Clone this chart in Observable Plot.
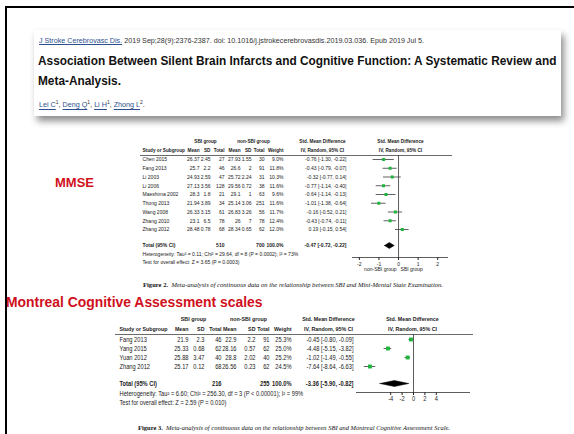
<!DOCTYPE html>
<html><head><meta charset="utf-8">
<script src="https://cdn.jsdelivr.net/npm/d3@7"></script>
<script src="https://cdn.jsdelivr.net/npm/@observablehq/plot@0.6"></script>
<style>
html,body{margin:0;padding:0;background:#fff}
#page{position:relative;width:574px;height:434px;overflow:hidden;background:#fff}
.abs{position:absolute;white-space:nowrap}
.u{text-decoration:underline}
</style></head>
<body><div id="page"></div>
<script>
// ---------- text content ----------
const citeJournal = "J Stroke Cerebrovasc Dis.";
const citeRest = " 2019 Sep;28(9):2376-2387. doi: 10.1016/j.jstrokecerebrovasdis.2019.03.036. Epub 2019 Jul 5.";
const titleLines = ["Association Between Silent Brain Infarcts and Cognitive Function: A Systematic Review and", "Meta-Analysis."];
const authorNames = ["Lei C", "Deng Q", "Li H", "Zhong L"];
const authorAffil = ["1", "1", "1", "2"];
const sectionLabels = ["MMSE", "Montreal Cognitive Assessment scales"];
const groupHeaders = ["SBI group", "non-SBI group", "Std. Mean Difference", "Std. Mean Difference"];
const subHeaders = ["Study or Subgroup", "Mean", "SD", "Total", "Mean", "SD", "Total", "Weight", "IV, Random, 95% CI", "IV, Random, 95% CI"];
const totalLabel = "Total (95% CI)";

// ---------- Figure 2: MMSE ----------
const mmseStudies = ["Chen 2015", "Fang 2013", "Li 2003", "Li 2006", "Maeshima 2002", "Thong 2013", "Wang 2008", "Zhang 2010", "Zhang 2012"];
const mmseSbiMean = [26.37, 25.7, 24.93, 27.13, 28.3, 21.94, 26.33, 23.1, 28.48];
const mmseSbiSD = [2.45, 2.2, 2.59, 3.56, 1.8, 3.89, 3.15, 6.5, 0.78];
const mmseSbiN = [27, 46, 47, 128, 21, 34, 61, 78, 68];
const mmseNonMean = [27.93, 26.6, 25.72, 29.56, 29.1, 25.14, 26.83, 26, 28.34];
const mmseNonSD = [1.55, 2, 2.24, 0.72, 1, 3.06, 3.26, 7, 0.65];
const mmseNonN = [30, 91, 31, 38, 63, 251, 56, 78, 62];
const mmseWeight = [9.0, 11.8, 10.3, 11.6, 9.6, 11.6, 11.7, 12.4, 12.0];
const mmseSMD = [-0.76, -0.43, -0.32, -0.77, -0.64, -1.01, -0.16, -0.43, 0.19];
const mmseLo = [-1.30, -0.79, -0.77, -1.14, -1.14, -1.38, -0.52, -0.74, -0.15];
const mmseHi = [-0.22, -0.07, 0.14, -0.40, -0.13, -0.64, 0.21, -0.11, 0.54];
const mmseTotalN = [510, 700];
const mmseTotalWeight = 100.0;
const mmseTotalCI = [-0.47, -0.72, -0.22];
const mmseHeterogeneity = "Heterogeneity: Tau² = 0.11; Chi² = 29.64, df = 8 (P = 0.0002); I² = 73%";
const mmseOverall = "Test for overall effect: Z = 3.65 (P = 0.0003)";
const mmseTicks = [-2, -1, 0, 1, 2];
const mmseFavours = ["non-SBI group", "SBI group"];
const mmseCaption = ["Figure 2.", "Meta-analysis of continuous data on the relationship between SBI and Mini-Mental State Examination."];

// ---------- Figure 3: MoCA ----------
const mocaStudies = ["Fang 2013", "Yang 2015", "Yuan 2012", "Zhang 2012"];
const mocaSbiMean = [21.9, 25.33, 25.88, 25.17];
const mocaSbiSD = [2.3, 0.68, 3.47, 0.12];
const mocaSbiN = [46, 62, 40, 68];
const mocaNonMean = [22.9, 28.16, 28.8, 26.56];
const mocaNonSD = [2.2, 0.57, 2.02, 0.23];
const mocaNonN = [91, 62, 40, 62];
const mocaWeight = [25.3, 25.0, 25.2, 24.5];
const mocaSMD = [-0.45, -4.48, -1.02, -7.64];
const mocaLo = [-0.80, -5.15, -1.49, -8.64];
const mocaHi = [-0.09, -3.82, -0.55, -6.63];
const mocaTotalN = [216, 255];
const mocaTotalWeight = 100.0;
const mocaTotalCI = [-3.36, -5.90, -0.82];
const mocaHeterogeneity = "Heterogeneity: Tau² = 6.60; Chi² = 256.30, df = 3 (P < 0.00001); I² = 99%";
const mocaOverall = "Test for overall effect: Z = 2.59 (P = 0.010)";
const mocaTicks = [-4, -2, 0, 2, 4];
const mocaFavours = [];
const mocaCaption = ["Figure 3.", "Meta-analysis of continuous data on the relationship between SBI and Montreal Cognitive Assessment Scale."];

// ---------- helpers ----------
const page = document.getElementById("page");
const SANS = '"Liberation Sans", Arial, sans-serif';
const SERIF = '"Liberation Serif", "Times New Roman", serif';
const GREEN = "#1fb53c";

function box(left, top, w, h, css) {
  const d = document.createElement("div");
  d.className = "abs";
  Object.assign(d.style, {left: left + "px", top: top + "px", width: w + "px", height: h + "px"}, css);
  page.appendChild(d);
  return d;
}
function addText(html, o) {
  const d = document.createElement("div");
  d.className = "abs";
  d.innerHTML = html;
  Object.assign(d.style, {
    left: o.left + "px", top: (o.cy - o.size / 2) + "px", fontSize: o.size + "px",
    lineHeight: o.size + "px", fontWeight: o.weight || "normal", color: o.color || "#111",
    fontFamily: o.family || SANS
  });
  page.appendChild(d);
  if (o.width) {
    const w = d.getBoundingClientRect().width;
    d.style.transformOrigin = "0 50%";
    d.style.transform = `scaleX(${o.width / w})`;
  }
  return d;
}

// ---------- slide frame and header card ----------
box(5, 6, 2, 430, {background: "#000"});
box(5, 6, 570, 2, {background: "#000"});
box(34, 30, 527, 86, {background: "#fff", boxShadow: "3px 5px 7px rgba(0,0,0,0.45)"});

const LINK = "#2d4f8f";
addText(`<span class="u" style="color:${LINK}">${citeJournal}</span><span style="color:#333">${citeRest}</span>`,
  {left: 39, cy: 40, size: 7, width: 385});
addText(titleLines[0], {left: 38, cy: 62, size: 11.85, weight: "bold", color: "#111"});
addText(titleLines[1], {left: 38, cy: 82, size: 11.85, weight: "bold", color: "#111"});
addText(authorNames.map((a, i) => `<span class="u" style="color:${LINK}">${a}</span><sup style="font-size:5px">${authorAffil[i]}</sup>`).join(", ") + ".",
  {left: 39, cy: 103, size: 7.2, color: "#333"});

addText(sectionLabels[0], {left: 55, cy: 182, size: 13, weight: "bold", color: "#d0101c"});
addText(sectionLabels[1], {left: 6, cy: 303, size: 13.9, weight: "bold", color: "#d0101c"});

// horizontally condense the table text (the source uses a narrow face):
// each text is positioned by transform="translate(x,y)", so a scale appended to it
// compresses the glyphs about their own anchor point.
function condense(svg, refText, targetW) {
  const texts = [...svg.querySelectorAll("text")];
  const ref = texts.find(t => t.textContent === refText);
  if (!ref) return;
  const s = targetW / ref.getBBox().width;
  texts.forEach(t => {
    const tr = t.getAttribute("transform");
    if (tr && /translate/.test(tr)) t.setAttribute("transform", tr + ` scale(${s.toFixed(4)},1)`);
  });
}

// ---------- forest plot builder ----------
function forest(o) {
  const L = o.layout;
  const n = o.studies.length;
  const ry = a => (a - L.row0) / L.step;
  const rows = o.studies.map((s, i) => ({
    i, study: s, m1: o.m1[i], s1: o.s1[i], n1: o.n1[i], m2: o.m2[i], s2: o.s2[i], n2: o.n2[i],
    w: o.weight[i], smd: o.smd[i], lo: o.lo[i], hi: o.hi[i]
  }));
  const f2 = v => (v < 0 ? "-" : "") + Math.abs(v).toFixed(2);
  const ci = (e, lo, hi) => `${f2(e)} [${f2(lo)}, ${f2(hi)}]`;
  const frameLeft = L.left + L.mLeft;
  const dx = a => a - frameLeft;
  const C = L.cols;
  const base = {frameAnchor: "left", fontSize: L.fs, fill: "#1a1a1a"};
  const hdr = {...base, fontSize: L.fs * 0.93, fontWeight: "bold"};
  const marks = [];

  const yG = ry(L.hdr1), yS = ry(L.hdr2);
  [C.g1, C.g2, C.gci, C.gplot].forEach((x, k) =>
    marks.push(Plot.text([groupHeaders[k]], {...hdr, y: () => yG, text: d => d, dx: dx(x), textAnchor: "middle"})));
  const subX = [C.label, C.m1, C.s1, C.n1, C.m2, C.s2, C.n2, C.w, C.gci, C.gplot];
  const subA = ["start", "end", "end", "end", "end", "end", "end", "end", "middle", "middle"];
  subHeaders.forEach((h, k) =>
    marks.push(Plot.text([h], {...hdr, y: () => yS, text: d => d, dx: dx(subX[k]), textAnchor: subA[k]})));

  marks.push(Plot.ruleY([ry(L.line)], {stroke: "#444", strokeWidth: 0.8, insetLeft: -(frameLeft - L.lineFrom), insetRight: -(L.lineTo - (L.left + L.w - L.mRight))}));

  const cols = [
    [d => d.study, C.label, "start"],
    [d => String(d.m1), C.m1, "end"], [d => String(d.s1), C.s1, "end"], [d => String(d.n1), C.n1, "end"],
    [d => String(d.m2), C.m2, "end"], [d => String(d.s2), C.s2, "end"], [d => String(d.n2), C.n2, "end"],
    [d => d.w.toFixed(1) + "%", C.w, "end"],
    [d => ci(d.smd, d.lo, d.hi), C.ci, "end"]
  ];
  cols.forEach(([t, x, a]) => marks.push(Plot.text(rows, {...base, y: "i", text: t, dx: dx(x), textAnchor: a})));

  const yT = ry(L.total);
  const totals = [
    [totalLabel, C.label, "start"], [String(o.totalN[0]), C.n1, "end"], [String(o.totalN[1]), C.n2, "end"],
    [o.totalWeight.toFixed(1) + "%", C.w, "end"], [ci(o.totalCI[0], o.totalCI[1], o.totalCI[2]), C.ci, "end"]
  ];
  totals.forEach(([t, x, a]) => marks.push(Plot.text([t], {...base, y: () => yT, text: d => d, dx: dx(x), textAnchor: a, fontWeight: "bold"})));
  marks.push(Plot.text([o.het], {...base, y: () => ry(L.het), text: d => d, dx: dx(C.label), textAnchor: "start"}));
  marks.push(Plot.text([o.overall], {...base, y: () => ry(L.test), text: d => d, dx: dx(C.label), textAnchor: "start"}));

  marks.push(Plot.ruleX([0], {stroke: "#333", strokeWidth: 0.8}));
  marks.push(Plot.ruleY([ry(L.axis)], {stroke: "#333", strokeWidth: 0.8}));
  marks.push(Plot.ruleY(rows, {y: "i", x1: "lo", x2: "hi", stroke: "#3a3a3a", strokeWidth: 0.8}));
  marks.push(Plot.dot(rows, {x: "smd", y: "i", symbol: "square", r: L.r, fill: GREEN, stroke: null}));
  const h = L.dh / L.step;
  const [te, tlo, thi] = o.totalCI;
  const diamond = [[tlo, yT], [te, yT - h], [thi, yT], [te, yT + h], [tlo, yT]].map(([x, y]) => ({x, y}));
  marks.push(Plot.line(diamond, {x: "x", y: "y", fill: "#000", stroke: "#000", strokeWidth: 0.5}));
  if (o.favours.length) {
    marks.push(Plot.text([o.favours[0]], {x: () => 0, frameAnchor: "bottom", text: d => d, dy: L.favDy, dx: -2, textAnchor: "end", fontSize: L.fs, fill: "#1a1a1a"}));
    marks.push(Plot.text([o.favours[1]], {x: () => 0, frameAnchor: "bottom", text: d => d, dy: L.favDy, dx: 2, textAnchor: "start", fontSize: L.fs, fill: "#1a1a1a"}));
  }

  const svg = Plot.plot({
    width: L.w, height: L.h,
    marginLeft: L.mLeft, marginRight: L.mRight, marginTop: L.line - L.top, marginBottom: L.top + L.h - L.axis,
    x: {domain: L.xDomain, ticks: o.ticks, tickSize: 3, tickPadding: 1, label: null,
        tickFormat: d => (d < 0 ? "-" + Math.abs(d) : String(d))},
    y: {type: "linear", domain: [0, n - 1], range: [L.row0 - L.top, L.row0 - L.top + (n - 1) * L.step], axis: null},
    style: {fontFamily: SANS, fontSize: L.fs + "px", color: "#222", background: "transparent", overflow: "visible"},
    marks
  });
  svg.style.position = "absolute";
  svg.style.left = L.left + "px";
  svg.style.top = L.top + "px";
  page.appendChild(svg);
  condense(svg, o.het, L.hetW);
}

forest({
  studies: mmseStudies, m1: mmseSbiMean, s1: mmseSbiSD, n1: mmseSbiN, m2: mmseNonMean, s2: mmseNonSD, n2: mmseNonN,
  weight: mmseWeight, smd: mmseSMD, lo: mmseLo, hi: mmseHi, totalN: mmseTotalN, totalWeight: mmseTotalWeight,
  totalCI: mmseTotalCI, het: mmseHeterogeneity, overall: mmseOverall, ticks: mmseTicks, favours: mmseFavours,
  layout: {
    left: 136, top: 134, w: 324, h: 146, mLeft: 216, mRight: 12, xDomain: [-2.35, 2.55],
    row0: 159, step: 8.75, hdr1: 141, hdr2: 150, line: 155, total: 245, het: 254, test: 262, axis: 257,
    lineFrom: 140, lineTo: 452, fs: 5.8, r: 1.7, dh: 3, favDy: 13, hetW: 156,
    cols: {label: 142, m1: 199, s1: 210, n1: 224, m2: 240, s2: 251, n2: 264, w: 283, ci: 346, g1: 205, g2: 253, gci: 322, gplot: 400}
  }
});

forest({
  studies: mocaStudies, m1: mocaSbiMean, s1: mocaSbiSD, n1: mocaSbiN, m2: mocaNonMean, s2: mocaNonSD, n2: mocaNonN,
  weight: mocaWeight, smd: mocaSMD, lo: mocaLo, hi: mocaHi, totalN: mocaTotalN, totalWeight: mocaTotalWeight,
  totalCI: mocaTotalCI, het: mocaHeterogeneity, overall: mocaOverall, ticks: mocaTicks, favours: mocaFavours,
  layout: {
    left: 112, top: 312, w: 365, h: 96, mLeft: 244, mRight: 7, xDomain: [-10, 10],
    row0: 339, step: 9, hdr1: 319, hdr2: 329, line: 334, total: 383, het: 393, test: 402, axis: 392,
    lineFrom: 115, lineTo: 473, fs: 6.4, r: 2.2, dh: 3, favDy: 13, hetW: 184,
    cols: {label: 119, m1: 188, s1: 204, n1: 221, m2: 236, s2: 255, n2: 269, w: 291, ci: 353, g1: 193, g2: 248, gci: 328, gplot: 412}
  }
});

// captions
addText(`<b style="font-style:normal">${mmseCaption[0]}</b>&nbsp; <i>${mmseCaption[1]}</i>`, {left: 143, cy: 285, size: 6.3, family: SERIF, color: "#111", width: 300});
addText(`<b style="font-style:normal">${mocaCaption[0]}</b>&nbsp; <i>${mocaCaption[1]}</i>`, {left: 138, cy: 428, size: 6.3, family: SERIF, color: "#111", width: 312});
</script>
</body></html>
